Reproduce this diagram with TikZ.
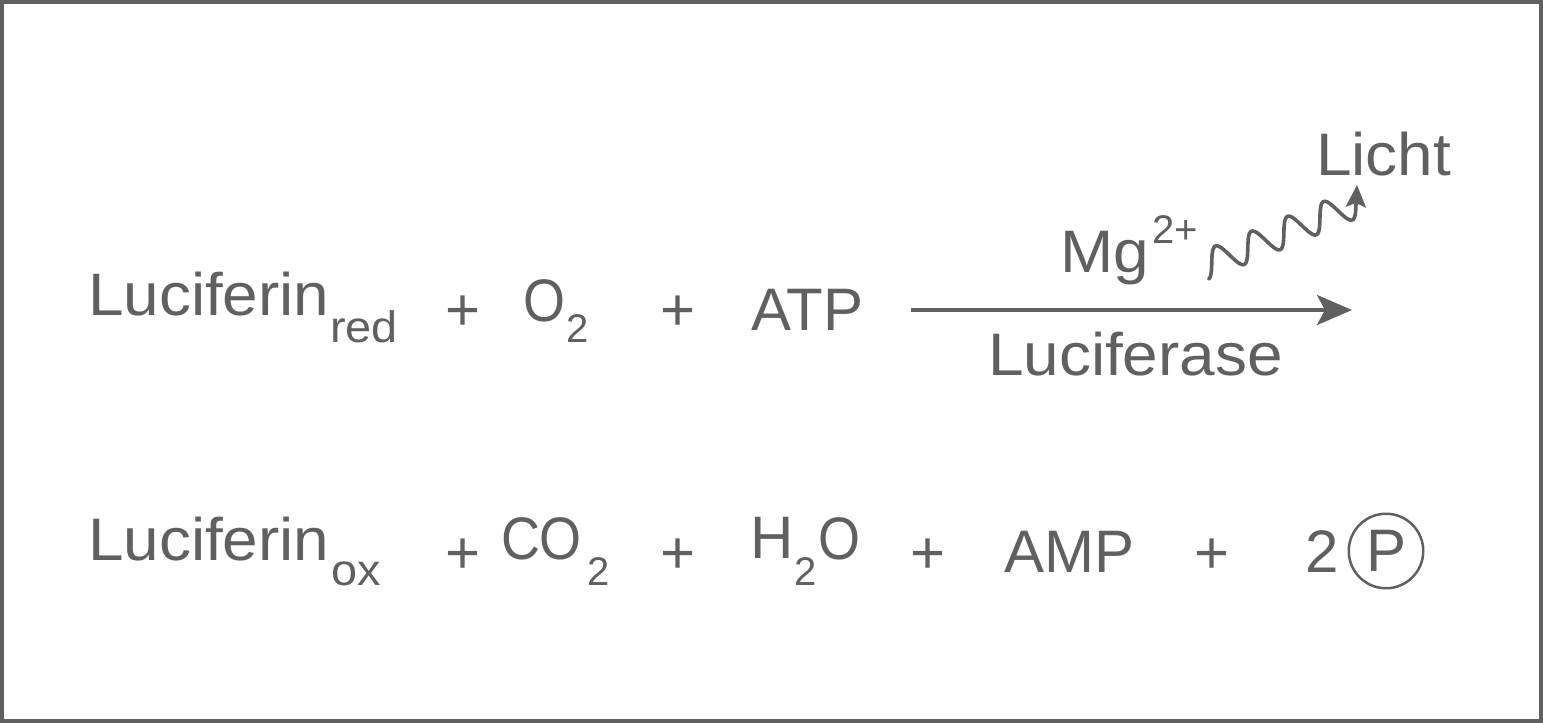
\documentclass[tikz,border=0pt]{standalone}
\usepackage{fontspec}
\setmainfont{Liberation Sans}
\newfontfamily\widefont[FakeStretch=1.065]{Liberation Sans}
\newfontfamily\narrowfont[FakeStretch=0.9]{Liberation Sans}
\usetikzlibrary{arrows.meta}
\definecolor{ink}{RGB}{96,96,96}
\begin{document}
\begin{tikzpicture}[x=0.5pt,y=-0.5pt,
  txt/.style={inner sep=0pt,outer sep=0pt,text=ink,font=\fontsize{30}{36}\selectfont,anchor=base west},
  wtxt/.style={txt,font=\widefont\fontsize{30}{36}\selectfont},
  ntxt/.style={txt,font=\narrowfont\fontsize{30}{36}\selectfont},
  sublbl/.style={inner sep=0pt,outer sep=0pt,text=ink,font=\widefont\fontsize{22}{26}\selectfont,anchor=base west},
  subnum/.style={inner sep=0pt,outer sep=0pt,text=ink,font=\fontsize{20}{24}\selectfont,anchor=base west},
  plus/.style={txt,anchor=base},
  rxn/.style={draw=ink,line width=2pt,-{Stealth[length=17.5pt,width=15pt,inset=4pt]}},
  wave/.style={draw=ink,line width=1.8pt,line cap=round,line join=round,-{Stealth[length=11pt,width=10pt,inset=2pt]}},
  pcircle/.style={circle,draw=ink,line width=1.25pt,minimum size=37.25pt,inner sep=0pt,text=ink,font=\fontsize{30}{36}\selectfont}
]
\useasboundingbox (0,0) rectangle (1543,723);
\draw[ink,line width=2pt] (2,2) rectangle (1541,721);

% row 1
\node[wtxt] (luc1) at (88,315) {Luciferin};
\node[sublbl] (red) at (330,342) {red};
\node[plus] (p1) at (463,330) {+};
\node[ntxt] (o2) at (523,321) {O};
\node[subnum] (o2s) at (566,342) {2};
\node[plus] (p2) at (678,330) {+};
\node[txt] (atp) at (751,330) {ATP};
\coordinate (aS) at (911,310);
\coordinate (aE) at (1352,310);
\draw[rxn] (aS) -- (aE);
\node[wtxt] (mg) at (1060,272) {Mg};
\node[subnum] (mgs) at (1152,243) {2+};
\node[wtxt] (licht) at (1316,175) {Licht};
\node[wtxt] (lase) at (988,375) {Luciferase};
\coordinate (wS) at (1209,279);
\coordinate (wE) at (1357,185);
\draw[wave] (wS) -- plot[domain=0:162,samples=140,smooth]
  ({1209+0.9245*\x-0.381*(14-14*cos(9.2308*(\x+1)))},
   {279-0.381*\x-0.9245*(14-14*cos(9.2308*(\x+1)))}) -- (wE);

% row 2
\node[wtxt] (luc2) at (88,560) {Luciferin};
\node[sublbl] (ox) at (331,585) {ox};
\node[plus] (p3) at (463,573) {+};
\node[ntxt] (co2) at (501,559) {CO};
\node[subnum] (co2s) at (587,585) {2};
\node[plus] (p4) at (678,573) {+};
\node[txt] (h) at (750,558) {H};
\node[subnum] (hs) at (794,585) {2};
\node[ntxt] (o) at (818,559) {O};
\node[plus] (p5) at (928,573) {+};
\node[txt] (amp) at (1004,572) {AMP};
\node[plus] (p6) at (1212,573) {+};
\node[txt] (two) at (1305,572) {2};
\node[pcircle] (pc) at (1386,551) {P};
\end{tikzpicture}
\end{document}
